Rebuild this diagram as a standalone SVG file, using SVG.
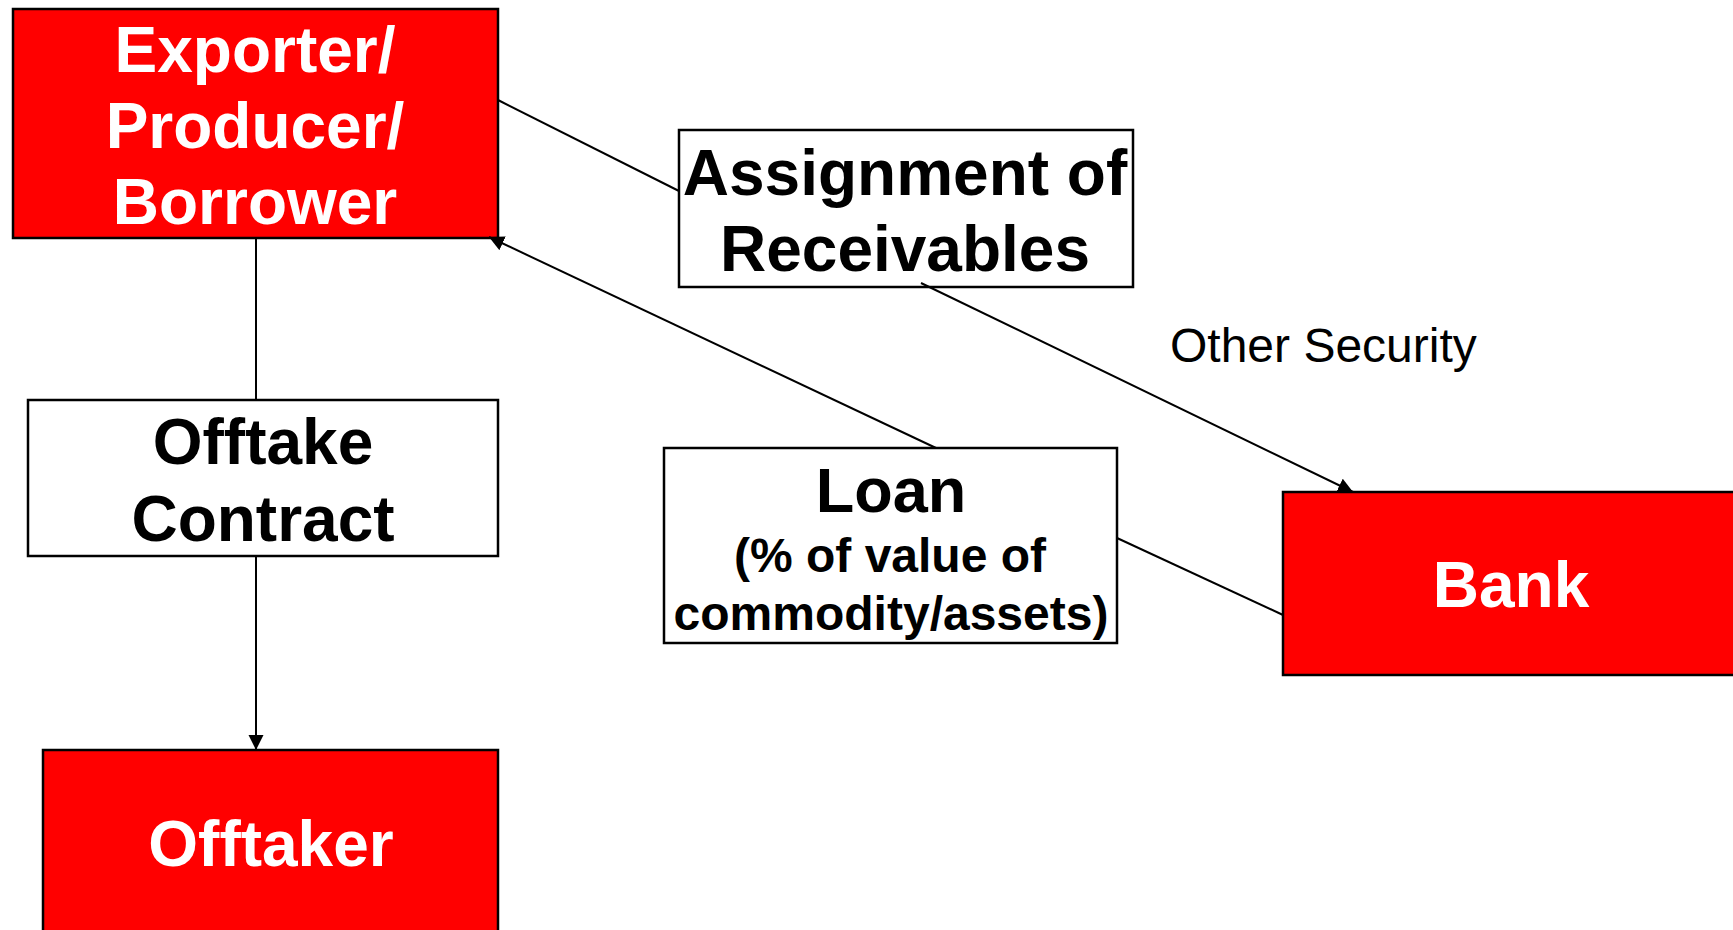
<svg xmlns="http://www.w3.org/2000/svg" width="1733" height="930" viewBox="0 0 1733 930">
  <style>
    .red { fill: #FF0000; stroke: #000; stroke-width: 2.5; }
    .white { fill: #FFFFFF; stroke: #000; stroke-width: 2.5; }
    .bw { font-family: "Liberation Sans", Arial, sans-serif; font-weight: bold; fill: #FFFFFF; text-anchor: middle; }
    .bb { font-family: "Liberation Sans", Arial, sans-serif; font-weight: bold; fill: #000000; text-anchor: middle; }
    .lbl { font-family: "Liberation Sans", Arial, sans-serif; fill: #000000; }
    .conn { stroke: #000; stroke-width: 2; fill: none; }
  </style>
  <defs>
    <marker id="arrow" markerUnits="userSpaceOnUse" markerWidth="16" markerHeight="16" refX="15" refY="7.5" orient="auto">
      <path d="M0,0 L15,7.5 L0,15 z" fill="#000"/>
    </marker>
  </defs>
  <rect width="1733" height="930" fill="#FFFFFF"/>

  <g id="exporter">
    <rect class="red" x="13" y="9" width="485" height="229"/>
    <text class="bw" font-size="64" x="255" y="72">Exporter/</text>
    <text class="bw" font-size="64" x="255" y="148">Producer/</text>
    <text class="bw" font-size="64" x="255" y="224">Borrower</text>
  </g>

  <g id="assignment">
    <rect class="white" x="679" y="130" width="454" height="157"/>
    <text class="bb" font-size="64" x="905" y="195">Assignment of</text>
    <text class="bb" font-size="64" x="905" y="271">Receivables</text>
  </g>

  <g id="offtake-contract">
    <rect class="white" x="28" y="400" width="470" height="156"/>
    <text class="bb" font-size="64" x="263" y="464">Offtake</text>
    <text class="bb" font-size="64" x="263" y="541">Contract</text>
  </g>

  <g id="loan">
    <rect class="white" x="664" y="448" width="453" height="195"/>
    <text class="bb" font-size="63" x="891" y="512">Loan</text>
    <text class="bb" font-size="48" x="890" y="572">(% of value of</text>
    <text class="bb" font-size="48" x="891" y="630">commodity/assets)</text>
  </g>

  <g id="bank">
    <rect class="red" x="1283" y="492" width="470" height="183"/>
    <text class="bw" font-size="64" x="1511" y="607">Bank</text>
  </g>

  <g id="offtaker">
    <rect class="red" x="43" y="750" width="455" height="200"/>
    <text class="bw" font-size="64" x="271" y="866">Offtaker</text>
  </g>

  <g id="connectors">
    <line class="conn" x1="498" y1="100" x2="679" y2="191"/>
    <line class="conn" x1="921" y1="283" x2="1353" y2="492" marker-end="url(#arrow)"/>
    <line class="conn" x1="936" y1="448" x2="489" y2="237" marker-end="url(#arrow)"/>
    <line class="conn" x1="1117" y1="538" x2="1283" y2="615"/>
    <line class="conn" x1="256" y1="238" x2="256" y2="400"/>
    <line class="conn" x1="256" y1="556" x2="256" y2="750" marker-end="url(#arrow)"/>
  </g>

  <text class="lbl" font-size="48" x="1170" y="362">Other Security</text>
</svg>
